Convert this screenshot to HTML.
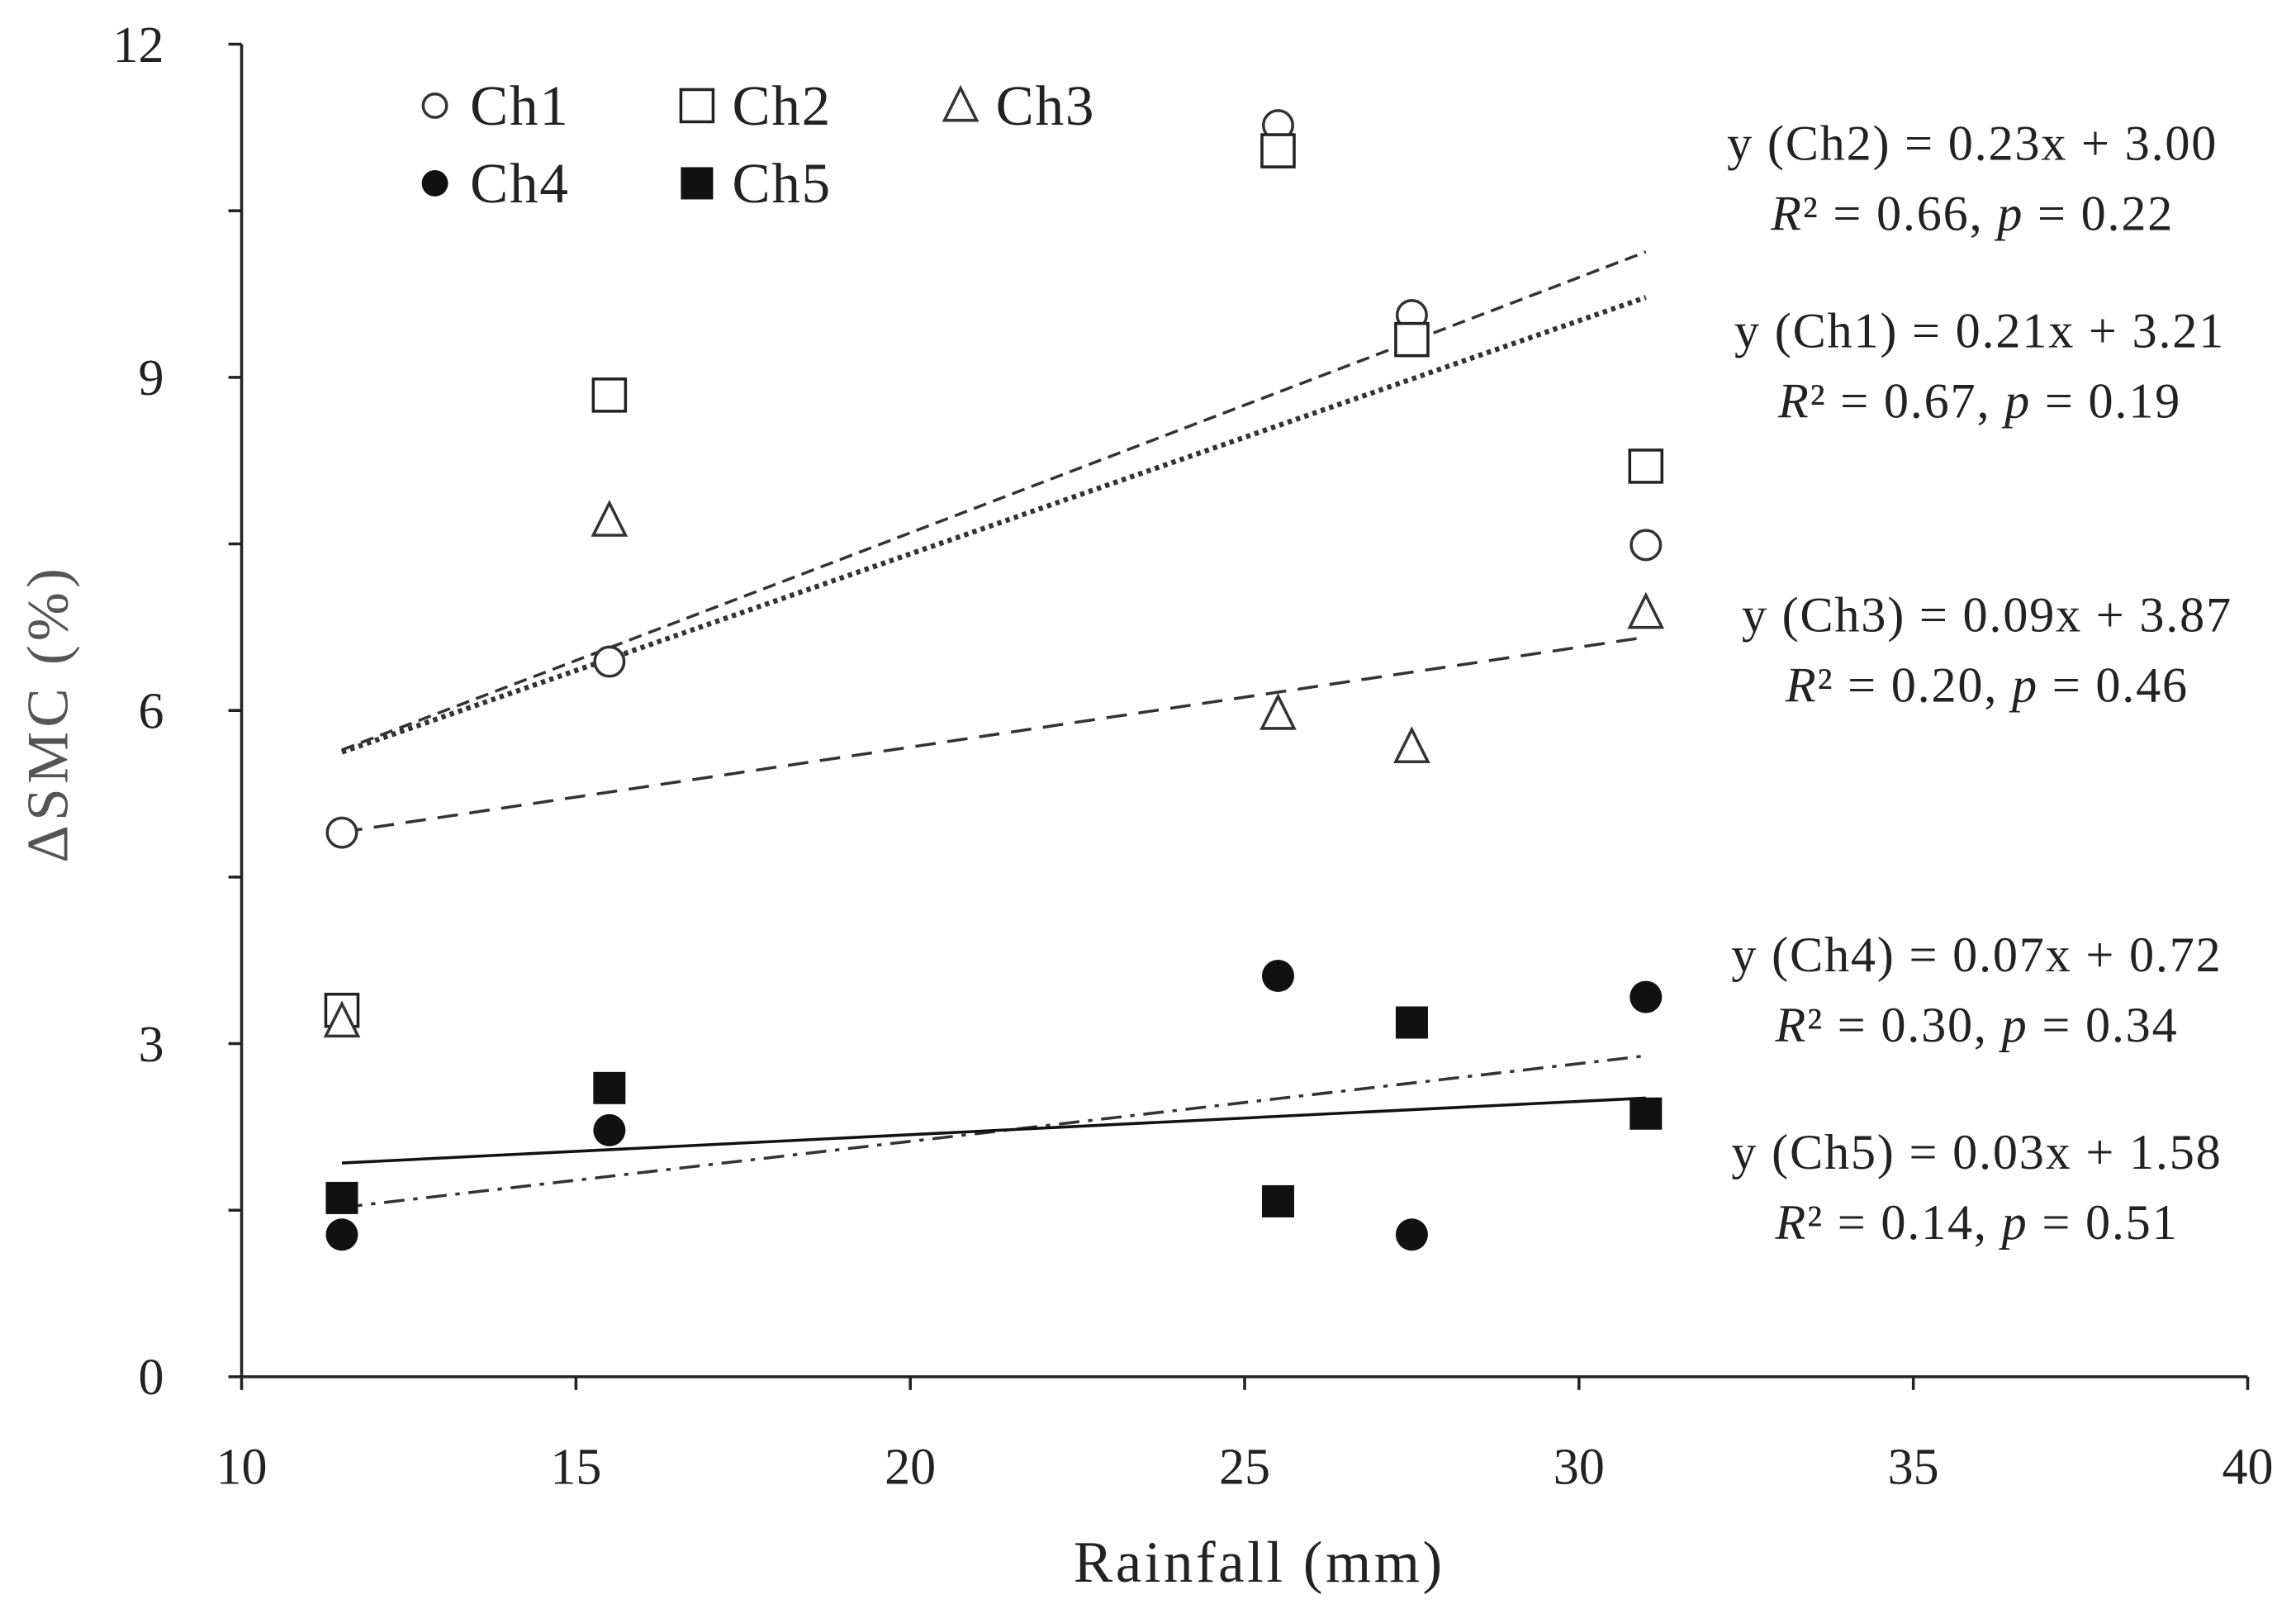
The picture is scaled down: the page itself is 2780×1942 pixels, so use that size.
<!DOCTYPE html>
<html><head><meta charset="utf-8"><style>
html,body{margin:0;padding:0;background:#fff}
svg{display:block}
text{font-family:"Liberation Serif",serif;fill:#222}
</style></head><body>
<svg id="chart" width="2780" height="1942" viewBox="0 0 1568 1095" xmlns="http://www.w3.org/2000/svg">
<g id="axes"></g>
<g id="lines"></g>
<g id="marks"></g>
<g id="legend"></g>
<g id="eqs"></g>
</svg>
<script>
const xVals = [11.5, 15.5, 25.5, 27.5, 31];
const ch1 = [4.9, 6.44, 11.27, 9.56, 7.49];
const ch2 = [3.3, 8.84, 11.04, 9.34, 8.2];
const ch3 = [3.2, 7.71, 5.97, 5.67, 6.88];
const ch4 = [1.28, 2.22, 3.61, 1.28, 3.42];
const ch5 = [1.61, 2.6, 1.58, 3.19, 2.37];
const slopes = [0.21, 0.23, 0.09, 0.07, 0.03];
const intercepts = [3.21, 3.00, 3.87, 0.72, 1.58];
const xTicks = [10, 15, 20, 25, 30, 35, 40];
const yTicks = [0, 3, 6, 9, 12];
const yMinor = [1.5, 4.5, 7.5, 10.5];

const NS = "http://www.w3.org/2000/svg";
const X0 = 165, X1 = 1535, Y0 = 940, Y1 = 30;
const sx = v => X0 + (v - 10) / 30 * (X1 - X0);
const sy = v => Y0 - v / 12 * (Y0 - Y1);
function mk(tag, attrs, parent, txt) {
  const e = document.createElementNS(NS, tag);
  for (const k in attrs) e.setAttribute(k, attrs[k]);
  if (txt !== undefined) e.textContent = txt;
  parent.appendChild(e);
  return e;
}
const axes = document.getElementById('axes');
let e;
e = mk('path', {d: `M${X0} ${Y1} V${Y0} H${X1}`, stroke: '#222', 'stroke-width': 2, fill: 'none'}, axes);


xTicks.forEach(t => {
  mk('line', {x1: sx(t), x2: sx(t), y1: Y0, y2: Y0 + 9, stroke: '#222', 'stroke-width': 2}, axes);
  e = mk('text', {x: sx(t), y: 1013, 'font-size': 35, 'text-anchor': 'middle'}, axes, t);
  
  
});
yTicks.concat(yMinor).forEach(t => {
  mk('line', {x1: X0 - 9, x2: X0, y1: sy(t), y2: sy(t), stroke: '#222', 'stroke-width': 2}, axes);
});
yTicks.forEach(t => {
  e = mk('text', {x: 112, y: sy(t) + 12, 'font-size': 35, 'text-anchor': 'end'}, axes, t);
  
  
});
e = mk('text', {x: 860, y: 1080, 'font-size': 40, 'text-anchor': 'middle', 'letter-spacing': 2}, axes, 'Rainfall (mm)');


e = mk('text', {x: 0, y: 0, 'font-size': 40, 'text-anchor': 'middle', 'letter-spacing': 3, transform: 'translate(46,487) rotate(-90)', style: 'fill:#555'}, axes, 'ΔSMC (%)');



const lines = document.getElementById('lines');
const dashes = ['3,3', '9,5', '14,8', '14,6,3,6', 'none'];
const lineColors = ['#333', '#333', '#333', '#333', '#111'];
const lineNames = ['trend-ch1', 'trend-ch2', 'trend-ch3', 'trend-ch4', 'trend-ch5'];
slopes.forEach((m, i) => {
  const xa = 11.5, xb = 31;
  e = mk('line', {x1: sx(xa), y1: sy(m * xa + intercepts[i]), x2: sx(xb), y2: sy(m * xb + intercepts[i]), stroke: lineColors[i], 'stroke-width': i === 0 ? 3.5 : 2, 'stroke-dasharray': dashes[i]}, lines);
  
  
});

function marker(type, cx, cy, parent) {
  let m;
  if (type === 'oc') m = mk('circle', {cx, cy, r: 10, fill: '#fff', stroke: '#333', 'stroke-width': 2}, parent);
  if (type === 'os') m = mk('rect', {x: cx - 11, y: cy - 11, width: 22, height: 22, fill: '#fff', stroke: '#222', 'stroke-width': 2}, parent);
  if (type === 'ot') m = mk('polygon', {points: `${cx},${cy - 12} ${cx - 11},${cy + 10} ${cx + 11},${cy + 10}`, fill: '#fff', stroke: '#333', 'stroke-width': 2}, parent);
  if (type === 'fc') m = mk('circle', {cx, cy, r: 11, fill: '#111'}, parent);
  if (type === 'fs') m = mk('rect', {x: cx - 11, y: cy - 11, width: 22, height: 22, fill: '#111'}, parent);
  return m;
}
const marks = document.getElementById('marks');
const series = [ch1, ch2, ch3, ch4, ch5];
const types = ['oc', 'os', 'ot', 'fc', 'fs'];
const pointNames = ['point-ch1', 'point-ch2', 'point-ch3', 'point-ch4', 'point-ch5'];
series.forEach((s, i) => {
  s.forEach((v, j) => {
    e = marker(types[i], sx(xVals[j]), sy(v), marks);
    
    
  });
});

const legend = document.getElementById('legend');
const legPos = [[297, 72], [476, 72], [656, 72], [297, 125], [476, 125]];
const legLabels = ['Ch1', 'Ch2', 'Ch3', 'Ch4', 'Ch5'];
legLabels.forEach((l, i) => {
  const [x, y] = legPos[i];
  const sm = marker(types[i], x, y, legend);
  if (i === 0) sm.setAttribute('r', 8);
  if (i === 3) sm.setAttribute('r', 9);
  e = mk('text', {x: x + 24, y: y + 13, 'font-size': 39, 'letter-spacing': 1}, legend, l);
  
  
});

const eqs = document.getElementById('eqs');
const eqRows = [
  [1347, 98, 'y (Ch2) = 0.23x + 3.00', '0.66', '0.22'],
  [1352, 226, 'y (Ch1) = 0.21x + 3.21', '0.67', '0.19'],
  [1357, 420, 'y (Ch3) = 0.09x + 3.87', '0.20', '0.46'],
  [1350, 652, 'y (Ch4) = 0.07x + 0.72', '0.30', '0.34'],
  [1350, 787, 'y (Ch5) = 0.03x + 1.58', '0.14', '0.51']
];
eqRows.forEach(r => {
  e = mk('text', {x: r[0], y: r[1] + 11, 'font-size': 34, 'letter-spacing': 1, 'text-anchor': 'middle'}, eqs, r[2]);
  
  
  const t = mk('text', {x: r[0], y: r[1] + 59, 'font-size': 34, 'letter-spacing': 1, 'text-anchor': 'middle'}, eqs);
  
  
  mk('tspan', {'font-style': 'italic'}, t, 'R');
  mk('tspan', {}, t, '² = ' + r[3] + ', ');
  mk('tspan', {'font-style': 'italic'}, t, 'p');
  mk('tspan', {}, t, ' = ' + r[4]);
});
</script>
</body></html>
